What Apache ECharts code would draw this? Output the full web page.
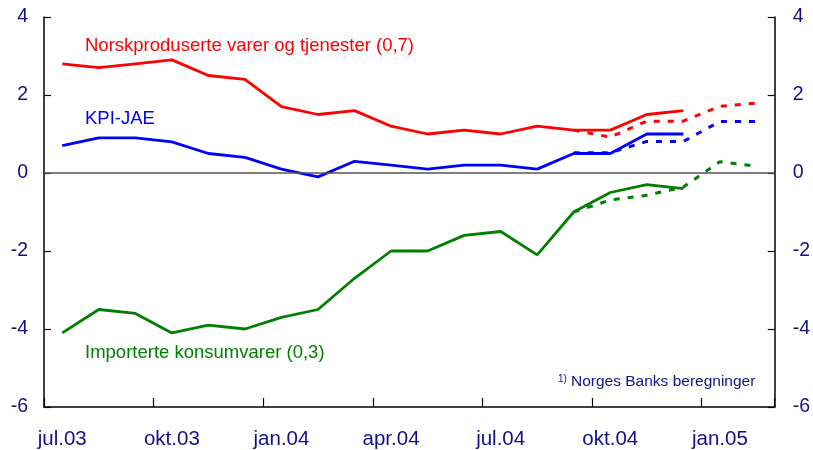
<!DOCTYPE html>
<html>
<head>
<meta charset="utf-8">
<script src="https://cdn.jsdelivr.net/npm/echarts@6/dist/echarts.min.js"></script>
<style>
  html, body { margin: 0; padding: 0; background: #fff; }
  #chart { width: 813px; height: 450px; }
</style>
</head>
<body>
<div id="chart"></div>
<script>
  // months jul.03 - feb.05
  var months = ['jul.03', 'aug.03', 'sep.03', 'okt.03', 'nov.03', 'des.03',
    'jan.04', 'feb.04', 'mar.04', 'apr.04', 'mai.04', 'jun.04',
    'jul.04', 'aug.04', 'sep.04', 'okt.04', 'nov.04', 'des.04',
    'jan.05', 'feb.05']
  var yTicks = [-6, -4, -2, 0, 2, 4]

  // faktiske tall
  var norsk = [2.8, 2.7, 2.8, 2.9, 2.5, 2.4, 1.7, 1.5, 1.6, 1.2, 1.0, 1.1,
    1.0, 1.2, 1.1, 1.1, 1.5, 1.6, null, null]
  var kpiJae = [0.7, 0.9, 0.9, 0.8, 0.5, 0.4, 0.1, -0.1, 0.3, 0.2, 0.1, 0.2,
    0.2, 0.1, 0.5, 0.5, 1.0, 1.0, null, null]
  var importert = [-4.1, -3.5, -3.6, -4.1, -3.9, -4.0, -3.7, -3.5, -2.7, -2.0, -2.0, -1.6,
    -1.5, -2.1, -1.0, -0.5, -0.3, -0.4, null, null]

  // beregninger (stiplet)
  var norskBer = [null, null, null, null, null, null, null, null, null, null, null, null,
    null, null, 1.1, 0.92, 1.33, 1.33, 1.71, 1.79]
  var kpiJaeBer = [null, null, null, null, null, null, null, null, null, null, null, null,
    null, null, 0.52, 0.52, 0.81, 0.81, 1.32, 1.32]
  var importertBer = [null, null, null, null, null, null, null, null, null, null, null, null,
    null, null, -1.0, -0.69, -0.57, -0.36, 0.29, 0.17]

  var navy = '#10108c'
  var font = '"Liberation Sans", Arial'
  var chart = echarts.init(document.getElementById('chart'))

  function line (data, color, dashed) {
    return {
      type: 'line',
      data: data,
      symbol: 'none',
      connectNulls: false,
      silent: true,
      z: dashed ? 3 : 4,
      lineStyle: {
        color: color,
        width: dashed ? 3 : 2.8,
        type: dashed ? [6, 8] : 'solid'
      }
    }
  }

  var series = [
    line(norsk, '#ff0000', false),
    line(kpiJae, '#0000ff', false),
    line(importert, '#008000', false),
    line(norskBer, '#ff0000', true),
    line(kpiJaeBer, '#0000ff', true),
    line(importertBer, '#008000', true)
  ]
  // nullinje
  series[0].markLine = {
    silent: true,
    symbol: 'none',
    label: { show: false },
    lineStyle: { color: '#555', width: 1.5, type: 'solid' },
    data: [{ yAxis: 0 }]
  }

  function yAxis (pos, margin) {
    return {
      type: 'value',
      position: pos,
      min: yTicks[0],
      max: yTicks[yTicks.length - 1],
      interval: 2,
      splitLine: { show: false },
      axisLine: { show: true, onZero: false, lineStyle: { color: '#000', width: 1.5 } },
      axisTick: { show: true, inside: true, length: 7, lineStyle: { color: '#000', width: 1.2 } },
      axisLabel: {
        margin: margin,
        color: navy,
        fontFamily: font,
        fontSize: 19.5
      }
    }
  }

  var option = {
    animation: false,
    grid: { left: 44, right: 38, top: 17, bottom: 42 },
    xAxis: {
      type: 'category',
      data: months,
      boundaryGap: true,
      axisLine: { onZero: false, lineStyle: { color: '#000', width: 1.5 } },
      axisTick: { show: true, inside: true, interval: 2, length: 9, lineStyle: { color: '#000', width: 1.2 } },
      axisLabel: {
        interval: 2,
        margin: 22,
        color: navy,
        fontFamily: font,
        fontSize: 20.5
      }
    },
    yAxis: [yAxis('left', 16), yAxis('right', 18)],
    series: series,
    graphic: [
      {
        type: 'text', left: 85, top: 36,
        style: { text: 'Norskproduserte varer og tjenester (0,7)', fill: '#ff0000', font: '18.5px ' + font }
      },
      {
        type: 'text', left: 85, top: 109,
        style: { text: 'KPI-JAE', fill: '#0000ff', font: '18.5px ' + font }
      },
      {
        type: 'text', left: 85, top: 343,
        style: { text: 'Importerte konsumvarer (0,3)', fill: '#008000', font: '18.5px ' + font }
      },
      {
        type: 'text', left: 558, top: 374,
        style: { text: '1)', fill: navy, font: '10px ' + font }
      },
      {
        type: 'text', left: 571, top: 374,
        style: { text: 'Norges Banks beregninger', fill: navy, font: '15.5px ' + font }
      }
    ]
  }

  chart.setOption(option)
</script>
</body>
</html>
